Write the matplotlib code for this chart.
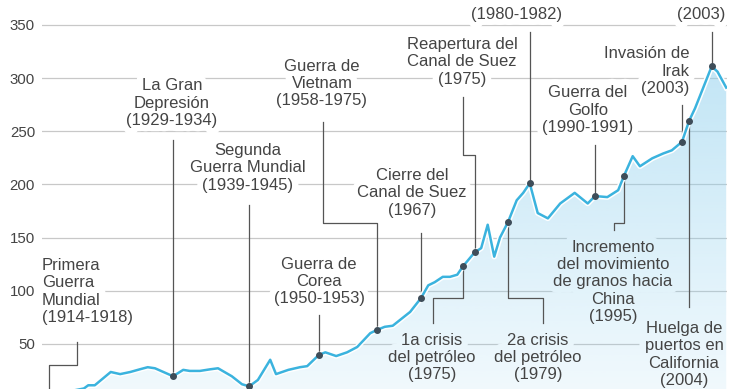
"""
Indice historico de fletes con hitos anotados
=============================================
"""

import numpy as np
import matplotlib.pyplot as plt
import matplotlib.patheffects as pe
from matplotlib.patches import Polygon

plt.rcParams['font.family'] = ['Liberation Sans', 'DejaVu Sans']

####################################
# Datos
# ----------------------------------

years = [1915.7, 1919.0, 1920.5, 1921.1, 1922.0, 1924.2, 1925.5, 1926.9, 1928.2,
         1929.3, 1930.3, 1932.8, 1934.2, 1935.1, 1936.5, 1937.9, 1939.0, 1940.9,
         1942.3, 1943.3, 1944.5, 1946.2, 1947.0, 1948.7, 1950.3, 1951.3, 1952.9,
         1953.8, 1955.3, 1956.8, 1958.2, 1960.0, 1960.9, 1962.0, 1963.1, 1965.5,
         1967.0, 1968.0, 1968.9, 1970.0, 1971.0, 1972.0, 1972.8, 1974.4, 1975.3,
         1976.2, 1977.1, 1977.9, 1979.0, 1980.2, 1981.1, 1982.0, 1983.1, 1984.5,
         1986.2, 1988.2, 1990.0, 1991.0, 1992.7, 1994.2, 1995.0, 1996.2, 1997.2,
         1998.9, 2000.4, 2001.6, 2003.0, 2004.0, 2004.8, 2007.1, 2007.9, 2009.1]

values = [3, 6, 8, 11, 11, 23.5, 21.5, 23.5, 26,
          28, 27, 19.5, 25.5, 24.5, 24.5, 26, 27, 19.5,
          12, 10, 16, 35, 21.5, 25.5, 28, 29, 39.5,
          42, 38.5, 42, 47, 60, 63, 66, 67, 80,
          93, 105, 108, 113, 113, 115, 123, 136, 140,
          162, 132, 150, 164.5, 185, 192, 201, 173, 168,
          182, 192, 182, 189, 188, 194.5, 208, 226.5, 217,
          224.5, 229, 232, 240, 260, 271.5, 311, 306, 291]

yticks = [50, 100, 150, 200, 250, 300, 350]

# texto, anio del hito, posicion del texto, alineacion, tramos del conector
notes = [
    ("Primera\nGuerra\nMundial\n(1914-1918)", 1915.7, (1914.72, 99.2), 'left',
     [(1919.55, 51.7), (1919.55, 30.1), (1915.7, 30.1)]),
    ("La Gran\nDepresión\n(1929-1934)", 1932.8, (1932.66, 276.5), 'center',
     [(1932.8, 241.7)]),
    ("Segunda\nGuerra Mundial\n(1939-1945)", 1943.3, (1943.14, 215.4), 'center',
     [(1943.3, 180.6)]),
    ("Guerra de\nCorea\n(1950-1953)", 1952.9, (1952.93, 108.6), 'center',
     [(1952.9, 77.1)]),
    ("Guerra de\nVietnam\n(1958-1975)", 1960.9, (1953.34, 294.8), 'center',
     [(1953.48, 258.6), (1953.48, 163.6), (1960.9, 163.6)]),
    ("Cierre del\nCanal de Suez\n(1967)", 1967.0, (1965.76, 191.9), 'center',
     [(1967.0, 154.2)]),
    ("1a crisis\ndel petróleo\n(1975)", 1972.8, (1968.52, 37.1), 'center',
     [(1968.66, 69.6), (1968.66, 93.1), (1972.8, 93.1)]),
    ("Reapertura del\nCanal de Suez\n(1975)", 1974.4, (1972.66, 315.1), 'center',
     [(1972.79, 282.1), (1972.79, 227.6), (1974.4, 227.6)]),
    ("(1980-1982)", 1982.0, (1980.24, 360.2), 'center',
     [(1982.0, 343.3)]),
    ("2a crisis\ndel petróleo\n(1979)", 1979.0, (1983.14, 37.1), 'center',
     [(1983.83, 69.6), (1983.83, 93.1), (1979.0, 93.1)]),
    ("Guerra del\nGolfo\n(1990-1991)", 1991.0, (1990.03, 269.9), 'center',
     [(1991.0, 237.0)]),
    ("Incremento\ndel movimiento\nde granos hacia\nChina\n(1995)", 1995.0,
     (1993.48, 108.2), 'center',
     [(1993.62, 157.1), (1993.62, 163.6), (1995.0, 163.6)]),
    ("Invasión de\nIrak\n(2003)", 2003.0, (2003.97, 306.6), 'right',
     [(2003.0, 274.6)]),
    ("Huelga de\npuertos en\nCalifornia\n(2004)", 2004.0, (2003.28, 40.0), 'center',
     [(2004.0, 84.6)]),
    ("(2003)", 2007.1, (2005.62, 360.2), 'center',
     [(2007.1, 343.3)]),
]

####################################
# Figura
# ----------------------------------

fig = plt.figure(figsize=(7.4, 3.89), dpi=100)
ax = fig.add_axes([42 / 740, 0, 685 / 740, 1])
ax.set_xlim(1914.72, 2009.21)
ax.set_ylim(7.5, 373.4)

for s in ax.spines.values():
    s.set_visible(False)
ax.set_xticks([])
ax.set_yticks(yticks)
ax.tick_params(axis='y', length=0, pad=5, labelsize=10.8, labelcolor='#444444')

for v in yticks:
    ax.axhline(v, color='#c8c8c8', lw=0.9, zorder=1)

# mascara blanca alrededor de los textos (corta las lineas de la rejilla)
for text, yr, (tx, ty), ha, path in notes:
    ax.text(tx, ty, text, ha=ha, va='center', fontsize=12, color='white',
            zorder=2, path_effects=[pe.withStroke(linewidth=9, foreground='white')])

# relleno degradado bajo la curva
grad = np.linspace(0, 373.4, 256)
rgba = np.zeros((256, 1, 4))
rgba[..., 0] = 0x8f / 255
rgba[..., 1] = 0xd0 / 255
rgba[..., 2] = 0xee / 255
rgba[:, 0, 3] = np.clip(0.12 + 0.42 * grad / 310, 0, 0.6)
im = ax.imshow(rgba, origin='lower', aspect='auto', zorder=3,
               extent=[1914.72, 2009.21, 0, 373.4])
verts = np.column_stack([years + years[::-1], values + [0] * len(values)])
poly = Polygon(verts, closed=True, facecolor='none', edgecolor='none',
               transform=ax.transData)
ax.add_patch(poly)
im.set_clip_path(poly)

ax.plot(years, values, color='#3bb3de', lw=1.8, zorder=5, solid_joinstyle='round',
        path_effects=[pe.Stroke(linewidth=4, foreground='white'), pe.Normal()])

for text, yr, (tx, ty), ha, path in notes:
    mv = np.interp(yr, years, values)
    xs = [p[0] for p in path] + [yr]
    ys = [p[1] for p in path] + [mv]
    ax.plot(xs, ys, color='#555555', lw=0.9, zorder=4, clip_on=False)
    ax.scatter([yr], [mv], s=16, color='#3e4d59', zorder=6)
    ax.text(tx, ty, text, ha=ha, va='center', fontsize=12, color='#444444',
            zorder=7)

fig.savefig('out.png', dpi=100)
